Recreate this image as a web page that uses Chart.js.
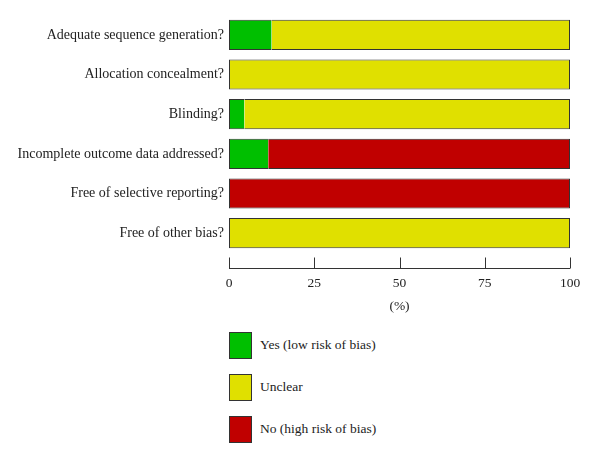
<!DOCTYPE html>
<html>
<head>
<meta charset="utf-8">
<script src="https://cdn.jsdelivr.net/npm/chart.js@4"></script>
<style>
  body { margin:0; background:#fff; font-family:"Liberation Serif", serif; }
  #wrap { position:relative; width:600px; height:464px; }
  #box { position:absolute; left:0; top:0; width:600px; height:320px; }
  #legend { position:absolute; left:229px; top:332px; }
  .item { display:flex; align-items:center; height:26px; margin-bottom:16px; }
  .swatch { width:21px; height:25px; border:1px solid #333; box-sizing:content-box; }
  .item span { margin-left:8px; font-size:13.5px; color:#222; }
</style>
</head>
<body>
<div id="wrap">
  <div id="box"><canvas id="chart"></canvas></div>
  <div id="legend"></div>
</div>
<script>
// ----- data -----
const categories = [
  "Adequate sequence generation?",
  "Allocation concealment?",
  "Blinding?",
  "Incomplete outcome data addressed?",
  "Free of selective reporting?",
  "Free of other bias?"
];
const yesLow   = [12.5, 0, 4.5, 11.5, 0, 0];
const unclear  = [87.5, 100, 95.5, 0, 0, 100];
const noHigh   = [0, 0, 0, 88.5, 100, 0];
const xTicks   = [0, 25, 50, 75, 100];
const seriesNames  = ["Yes (low risk of bias)", "Unclear", "No (high risk of bias)"];
const seriesColors = ["#00bf00", "#e0e000", "#c00000"];

const allSeries = [yesLow, unclear, noHigh];

// border only on the outside of each whole bar
function segBorder(ctx){
  const i = ctx.dataIndex, d = ctx.datasetIndex;
  let start = 0;
  for(let k=0;k<d;k++) start += allSeries[k][i];
  const end = start + allSeries[d][i];
  return { top:1, bottom:1, left: start===0 ? 1 : 0, right: end>=100 ? 1 : 0 };
}

// x axis drawn with ticks pointing up from a base line
const axisPlugin = {
  id: "axisUp",
  afterDraw(chart){
    const c = chart.ctx, x = chart.scales.x;
    const base = chart.chartArea.bottom + 15.5;
    c.save();
    c.strokeStyle = "#333";
    c.lineWidth = 1;
    c.beginPath();
    c.moveTo(x.getPixelForValue(0), base);
    c.lineTo(x.getPixelForValue(100), base);
    xTicks.forEach(v=>{
      const px = Math.round(x.getPixelForValue(v)) + 0.5;
      c.moveTo(px, base);
      c.lineTo(px, base - 11);
    });
    c.stroke();
    c.restore();
  }
};

new Chart(document.getElementById("chart"), {
  type: "bar",
  data: {
    labels: categories,
    datasets: allSeries.map((s,k)=>({
      label: seriesNames[k],
      data: s,
      backgroundColor: seriesColors[k],
      borderColor: "#333",
      borderWidth: segBorder,
      borderSkipped: false,
      barPercentage: 0.76,
      categoryPercentage: 1
    }))
  },
  options: {
    indexAxis: "y",
    responsive: true,
    maintainAspectRatio: false,
    animation: false,
    layout: { padding: { top: 15, right: 30, left: 0, bottom: 0 } },
    plugins: { legend: { display: false }, tooltip: { enabled: false } },
    scales: {
      x: {
        stacked: true, min: 0, max: 100,
        afterBuildTicks: s => { s.ticks = xTicks.map(v=>({value:v})); },
        afterFit: s => { s.height = 67; s.paddingLeft = 0; s.paddingRight = 0; },
        grid: { display: false, drawTicks: false },
        border: { display: false },
        ticks: { padding: 22, color: "#222", font: { family: "Liberation Serif", size: 13.5 } },
        title: { display: true, text: "(%)", color: "#222", padding: { top: 0, bottom: 5 },
                 font: { family: "Liberation Serif", size: 13.5 } }
      },
      y: {
        stacked: true,
        afterFit: s => { s.width = 229; s.paddingTop = 0; s.paddingBottom = 0; },
        grid: { display: false, drawTicks: false },
        border: { display: false },
        ticks: { padding: 5, color: "#222", font: { family: "Liberation Serif", size: 14 } }
      }
    }
  },
  plugins: [axisPlugin]
});

// ----- legend -----
const legend = document.getElementById("legend");
seriesNames.forEach((n,k)=>{
  const item = document.createElement("div");
  item.className = "item";
  item.innerHTML = `<div class="swatch" style="background:${seriesColors[k]}"></div><span>${n}</span>`;
  legend.appendChild(item);
});
</script>
</body>
</html>
